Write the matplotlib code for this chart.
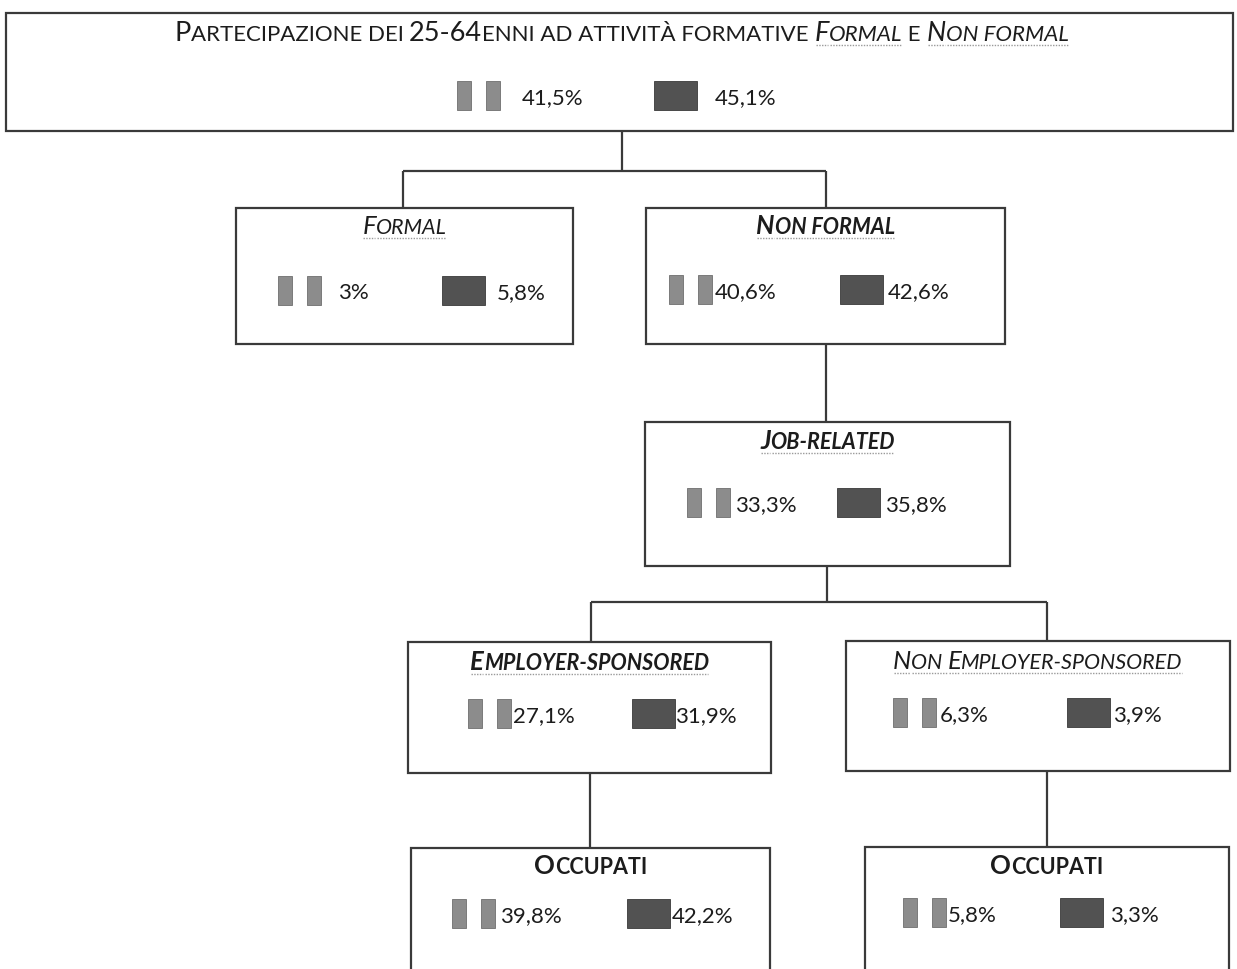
import matplotlib

matplotlib.use("Agg")

import matplotlib.pyplot as plt
from matplotlib.patches import Rectangle

# node titles: (segment, italic) pieces, drawn in small caps
titles = [
    [("Partecipazione dei 25-64enni ad attività formative ", False), ("Formal", True),
     (" e ", False), ("Non formal", True)],
    [("Formal", True)],
    [("Non formal", True)],
    [("Job-related", True)],
    [("Employer-sponsored", True)],
    [("Non Employer-sponsored", True)],
    [("Occupati", False)],
    [("Occupati", False)],
]
title_bold = [False, False, True, True, True, False, True, True]

# Italia (tricolore) vs UE (bandiera europea), percentuali
italy_values = [41.5, 3.0, 40.6, 33.3, 27.1, 6.3, 39.8, 5.8]
eu_values = [45.1, 5.8, 42.6, 35.8, 31.9, 3.9, 42.2, 3.3]

# layout in pixels: box (x0, y0, x1, y1), title baseline, value row centre,
# italian flag x, italian text x, eu flag x, eu text x
boxes = [
    (6, 14, 1233, 132), (236, 209, 573, 345), (646, 209, 1005, 345),
    (645, 423, 1010, 567), (408, 643, 771, 774), (846, 642, 1230, 772),
    (411, 849, 770, 990), (865, 848, 1229, 990),
]
title_y = [41, 234, 234, 449, 670, 669, 874, 874]
row_y = [96, 291, 290, 503, 714, 713, 914, 913]
it_x = [457, 278, 669, 687, 468, 893, 452, 903]
it_tx = [522, 338, 715, 735, 513, 940, 500, 948]
eu_x = [654, 442, 840, 837, 632, 1067, 627, 1060]
eu_tx = [715, 497, 888, 885, 675, 1113, 672, 1110]

connectors = [
    [(622, 132), (622, 172)], [(403, 172), (826, 172)],
    [(403, 172), (403, 209)], [(826, 172), (826, 209)],
    [(826, 345), (826, 423)],
    [(827, 567), (827, 603)], [(591, 603), (1047, 603)],
    [(591, 603), (591, 643)], [(1047, 603), (1047, 642)],
    [(590, 774), (590, 849)], [(1047, 772), (1047, 848)],
]

FONT = "Lato"
INK = "#1c1c1c"
LINE = "#3a3a3a"

fig = plt.figure(figsize=(12.37, 9.70), dpi=100)
ax = fig.add_axes([0, 0, 1, 1])
ax.set_xlim(0, 1237)
ax.set_ylim(970, 0)
ax.axis("off")
renderer = fig.canvas.get_renderer()


def run_width(s, **kw):
    a = ax.text(0, 0, s + "x", **kw)
    b = ax.text(0, 0, "x", **kw)
    w = a.get_window_extent(renderer).width - b.get_window_extent(renderer).width
    a.remove()
    b.remove()
    return w


def small_caps_runs(segments, big, small):
    runs = []
    for seg, italic in segments:
        for i, c in enumerate(seg):
            is_big = c.isupper() or c.isdigit()
            if c == "-" and 0 < i < len(seg) - 1 and seg[i - 1].isdigit() and seg[i + 1].isdigit():
                is_big = True
            size = big if is_big else small
            if runs and runs[-1][1] == size and runs[-1][2] == italic:
                runs[-1][0] += c.upper()
            else:
                runs.append([c.upper(), size, italic])
    return runs


def draw_title(cx, y, segments, bold, big, small):
    runs = small_caps_runs(segments, big, small)
    weight = "bold" if bold else "normal"
    widths = [run_width(s, fontsize=sz, fontstyle="italic" if it else "normal",
                        fontweight=weight, family=FONT) for s, sz, it in runs]
    x = cx - sum(widths) / 2
    for (s, sz, it), w in zip(runs, widths):
        ax.text(x, y, s, fontsize=sz, fontstyle="italic" if it else "normal",
                fontweight=weight, family=FONT, color=INK, ha="left", va="baseline")
        if it and s.strip():
            ax.plot([x + 1, x + w - 1], [y + 5, y + 5], color="#9a9a9a", lw=1.0,
                    linestyle=(0, (1, 1)))
        x += w


def fmt(v):
    return f"{v:g}".replace(".", ",") + "%"


for p in connectors:
    ax.plot([p[0][0], p[1][0]], [p[0][1], p[1][1]], color=LINE, lw=1.6,
            solid_capstyle="butt")

for i, (x0, y0, x1, y1) in enumerate(boxes):
    ax.add_patch(Rectangle((x0, y0), x1 - x0, y1 - y0, facecolor="white",
                           edgecolor=LINE, lw=1.6, zorder=2))
    if i == 0:
        draw_title((x0 + x1) / 2 + 2, title_y[i], titles[i], title_bold[i], 19.5, 16)
    else:
        draw_title((x0 + x1) / 2, title_y[i], titles[i], title_bold[i], 18.5, 15.5)

    cy = row_y[i]
    # italian flag: two grey bands (white one in the middle)
    for dx in (0, 29):
        ax.add_patch(Rectangle((it_x[i] + dx, cy - 14.5), 14, 29, facecolor="#8c8c8c",
                               edgecolor="#6e6e6e", lw=0.6, zorder=3))
    # eu flag
    ax.add_patch(Rectangle((eu_x[i], cy - 14.5), 43, 29, facecolor="#525252",
                           edgecolor="#3a3a3a", lw=0.6, zorder=3))
    ax.text(it_tx[i], cy + 8, fmt(italy_values[i]), fontsize=16, family=FONT,
            color=INK, ha="left", va="baseline", zorder=4)
    ax.text(eu_tx[i], cy + 8, fmt(eu_values[i]), fontsize=16, family=FONT,
            color=INK, ha="left", va="baseline", zorder=4)

fig.savefig("out.png", dpi=100)
plt.close(fig)
